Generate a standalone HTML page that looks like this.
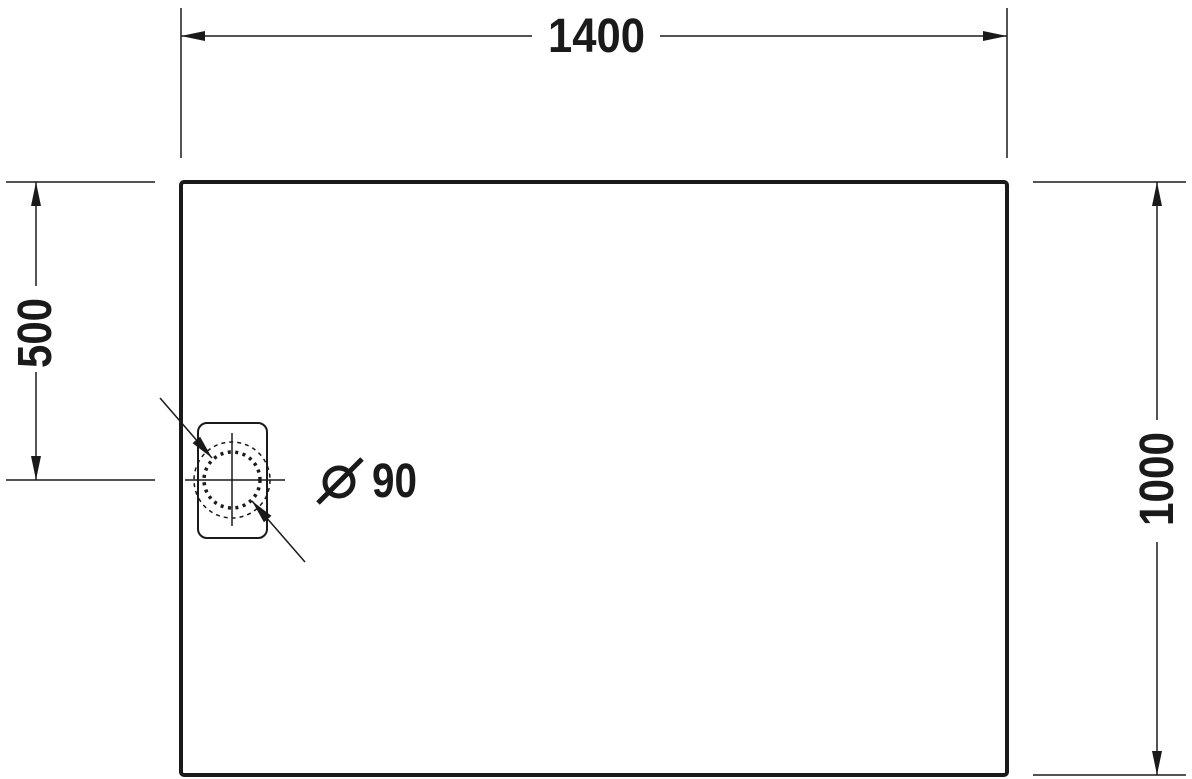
<!DOCTYPE html>
<html><head><style>
html,body{margin:0;padding:0;background:#fff;}
svg{display:block;}
text{font-family:"Liberation Sans Narrow","Liberation Sans",sans-serif;font-weight:bold;fill:#1a1a1a;}
</style></head><body>
<svg width="1192" height="779" viewBox="0 0 1192 779" xmlns="http://www.w3.org/2000/svg">
<defs>
<marker id="a" viewBox="0 0 24 12" refX="24" refY="6" markerWidth="24" markerHeight="12" markerUnits="userSpaceOnUse" orient="auto-start-reverse">
<path d="M0,1 L24,6 L0,11 z" fill="#1a1a1a"/></marker>
</defs>
<g stroke="#1a1a1a" stroke-width="1.5" fill="none">
<line x1="181" y1="8" x2="181" y2="158"/>
<line x1="1007" y1="8" x2="1007" y2="158"/>
<line x1="181" y1="36" x2="532" y2="36" marker-start="url(#a)"/>
<line x1="660" y1="36" x2="1007" y2="36" marker-end="url(#a)"/>
<line x1="6" y1="182" x2="155" y2="182"/>
<line x1="6" y1="480" x2="155" y2="480"/>
<line x1="36" y1="182" x2="36" y2="286" marker-start="url(#a)"/>
<line x1="36" y1="372" x2="36" y2="480" marker-end="url(#a)"/>
<line x1="1033" y1="182" x2="1186" y2="182"/>
<line x1="1033" y1="775" x2="1186" y2="775"/>
<line x1="1157" y1="182" x2="1157" y2="420" marker-start="url(#a)"/>
<line x1="1157" y1="542" x2="1157" y2="775" marker-end="url(#a)"/>
</g>
<rect x="181" y="182" width="826" height="593" rx="3" fill="none" stroke="#1a1a1a" stroke-width="4"/>
<rect x="198" y="423" width="69" height="115" rx="9" fill="none" stroke="#1a1a1a" stroke-width="2"/>
<circle cx="232" cy="480" r="38" fill="none" stroke="#1a1a1a" stroke-width="1.5" stroke-dasharray="4 4"/>
<circle cx="232" cy="480" r="28" fill="none" stroke="#1a1a1a" stroke-width="3.5" stroke-dasharray="3 4.5"/>
<g stroke="#1a1a1a" stroke-width="1.5">
<line x1="185" y1="480" x2="285" y2="480"/>
<line x1="232" y1="433" x2="232" y2="526"/>
<line x1="160" y1="398" x2="212" y2="458" marker-end="url(#a)"/>
<line x1="305" y1="562" x2="252" y2="501" marker-end="url(#a)"/>
<line x1="318" y1="503" x2="362" y2="459" stroke-width="5"/>
</g>
<circle cx="339" cy="482" r="14" fill="none" stroke="#1a1a1a" stroke-width="5"/>
<text x="372" y="497" font-size="48" textLength="45" lengthAdjust="spacingAndGlyphs">90</text>
<text x="548" y="52" font-size="48" textLength="97" lengthAdjust="spacingAndGlyphs">1400</text>
<text transform="translate(51,368) rotate(-90)" font-size="48" textLength="70" lengthAdjust="spacingAndGlyphs">500</text>
<text transform="translate(1173,526) rotate(-90)" font-size="48" textLength="94" lengthAdjust="spacingAndGlyphs">1000</text>
</svg>
</body></html>
